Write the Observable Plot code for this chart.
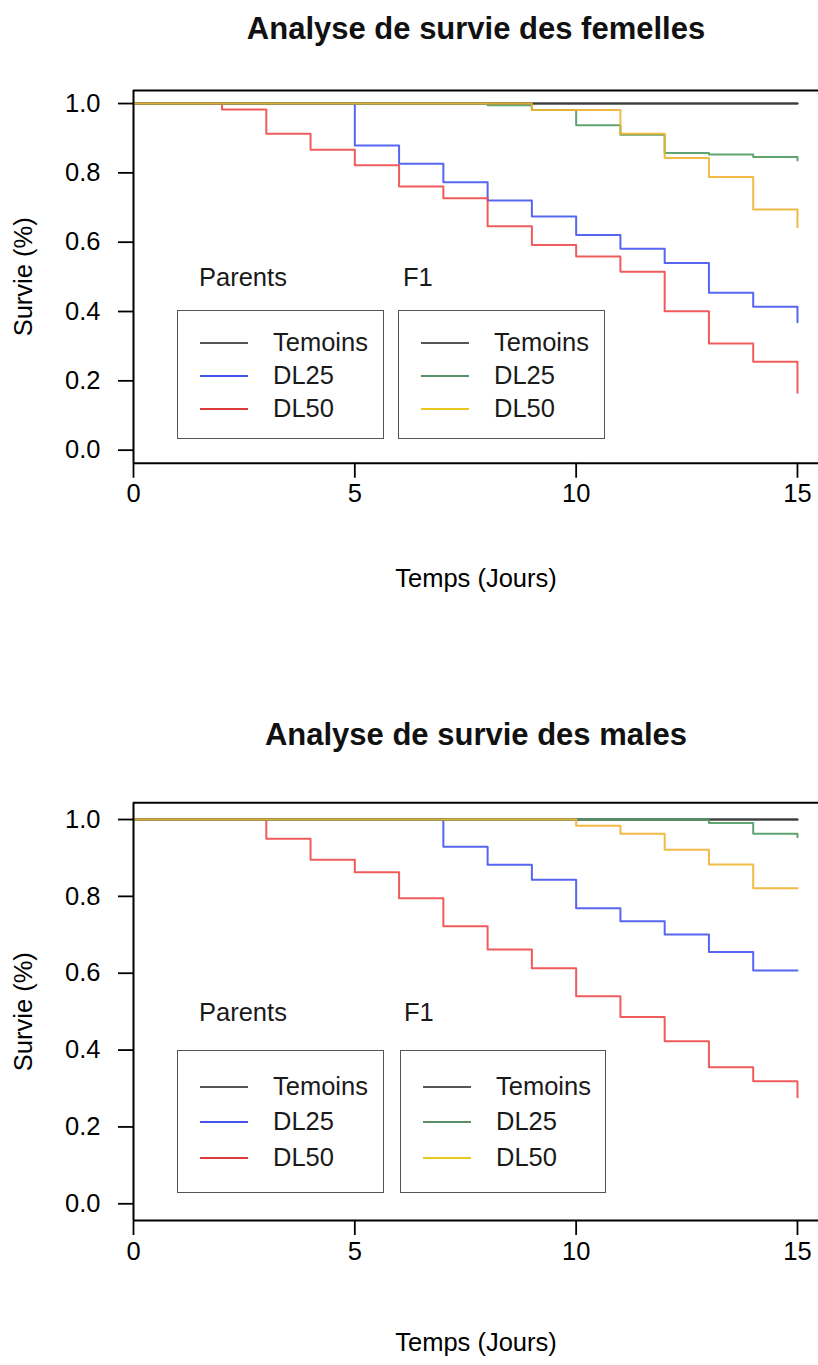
<!DOCTYPE html>
<html>
<head>
<meta charset="utf-8">
<script src="https://cdn.jsdelivr.net/npm/d3@7"></script>
<script src="https://cdn.jsdelivr.net/npm/@observablehq/plot@0.6"></script>
<style>
  body { margin: 0; background: #fff; }
  #root { position: relative; width: 818px; height: 1365px; overflow: hidden;
          font-family: "Liberation Sans", Arial, Helvetica, sans-serif; background: #fff; }
  .panel { position: absolute; left: 0; }
  .lg { position: absolute; font-size: 25.5px; color: #1a1a1a; line-height: 1; white-space: nowrap; transform: translateY(-50%); }
  .lg-box { position: absolute; border: 1.6px solid #555; box-sizing: border-box; }
  .lg-line { position: absolute; height: 0; border-top-width: 2px; border-top-style: solid; transform: translateY(-1px); }
</style>
</head>
<body>
<div id="root"></div>
<script>
// ---------- data ----------
const days = [0, 1, 2, 3, 4, 5, 6, 7, 8, 9, 10, 11, 12, 13, 14, 15];
const xTicks = [0, 5, 10, 15];
const yTicks = [0, 0.2, 0.4, 0.6, 0.8, 1.0];
const groups = ["Parents", "F1"];
const doses = ["Temoins", "DL25", "DL50"];

// Femelles
const femParentsTemoins = [1, 1, 1, 1, 1, 1, 1, 1, 1, 1, 1, 1, 1, 1, 1, 1];
const femParentsDL25    = [1, 1, 1, 1, 1, 0.879, 0.826, 0.773, 0.720, 0.674, 0.621, 0.581, 0.540, 0.454, 0.414, 0.369];
const femParentsDL50    = [1, 1, 0.983, 0.913, 0.867, 0.822, 0.761, 0.727, 0.646, 0.592, 0.559, 0.515, 0.401, 0.308, 0.255, 0.166];
const femF1Temoins      = [1, 1, 1, 1, 1, 1, 1, 1, 1, 1, 1, 1, 1, 1, 1, 1];
const femF1DL25         = [1, 1, 1, 1, 1, 1, 1, 1, 0.995, 0.981, 0.937, 0.910, 0.857, 0.853, 0.846, 0.836];
const femF1DL50         = [1, 1, 1, 1, 1, 1, 1, 1, 1, 0.981, 0.981, 0.913, 0.843, 0.788, 0.694, 0.643];

// Males
const malParentsTemoins = [1, 1, 1, 1, 1, 1, 1, 1, 1, 1, 1, 1, 1, 1, 1, 1];
const malParentsDL25    = [1, 1, 1, 1, 1, 1, 1, 0.929, 0.882, 0.843, 0.769, 0.735, 0.701, 0.655, 0.607, 0.607];
const malParentsDL50    = [1, 1, 1, 0.950, 0.895, 0.863, 0.795, 0.722, 0.662, 0.613, 0.540, 0.486, 0.423, 0.355, 0.319, 0.277];
const malF1Temoins      = [1, 1, 1, 1, 1, 1, 1, 1, 1, 1, 1, 1, 1, 1, 1, 1];
const malF1DL25         = [1, 1, 1, 1, 1, 1, 1, 1, 1, 1, 1, 1, 1, 0.991, 0.963, 0.954];
const malF1DL50         = [1, 1, 1, 1, 1, 1, 1, 1, 1, 1, 0.984, 0.963, 0.921, 0.883, 0.821, 0.821];

const titles = ["Analyse de survie des femelles", "Analyse de survie des males"];
const xLabel = "Temps (Jours)";
const yLabel = "Survie (%)";

// ---------- styles ----------
const colors = {
  "Parents-Temoins": "#3a3a3a", "Parents-DL25": "#4455ee", "Parents-DL50": "#ee4a4a",
  "F1-Temoins": "#3a3a3a", "F1-DL25": "#4f9a60", "F1-DL50": "#f0b232"
};
const legendColors = {
  "Parents-Temoins": "#555", "Parents-DL25": "#4455ee", "Parents-DL50": "#dd3a3a",
  "F1-Temoins": "#555", "F1-DL25": "#5a8f6a", "F1-DL50": "#e8c81e"
};

function buildTable(seriesList) {
  const rows = [];
  seriesList.forEach(([g, dose, values]) => {
    const key = g + "-" + dose;
    values.forEach((v, i) => rows.push({day: days[i], surv: v, key, color: colors[key]}));
  });
  return rows;
}

const femTable = buildTable([
  ["Parents", "Temoins", femParentsTemoins], ["Parents", "DL25", femParentsDL25], ["Parents", "DL50", femParentsDL50],
  ["F1", "Temoins", femF1Temoins], ["F1", "DL25", femF1DL25], ["F1", "DL50", femF1DL50]
]);
const malTable = buildTable([
  ["Parents", "Temoins", malParentsTemoins], ["Parents", "DL25", malParentsDL25], ["Parents", "DL50", malParentsDL50],
  ["F1", "Temoins", malF1Temoins], ["F1", "DL25", malF1DL25], ["F1", "DL50", malF1DL50]
]);

const xDomain = [0, 15.475];
const FONT = '"Liberation Sans", Arial, Helvetica, sans-serif';

function makePanel(table, cfg) {
  return Plot.plot({
    width: 818,
    height: cfg.height,
    marginLeft: 133,
    marginRight: 0,
    marginTop: cfg.marginTop,
    marginBottom: cfg.marginBottom,
    style: {fontFamily: FONT, fontSize: "25.5px", color: "#000", background: "transparent", overflow: "visible"},
    x: {domain: xDomain},
    y: {domain: cfg.yDomain},
    marks: [
      Plot.line(table, {x: "day", y: "surv", z: "key", stroke: "color", curve: "step-after", strokeWidth: 2, strokeOpacity: 0.9}),
      Plot.ruleX([xDomain[0]], {stroke: "#000", strokeWidth: 2}),
      Plot.ruleY(cfg.yDomain, {stroke: "#000", strokeWidth: 2}),
      Plot.axisX({ticks: xTicks, tickSize: 15, tickPadding: 6, tickFormat: d => String(d),
                  label: xLabel, labelAnchor: "center", labelOffset: cfg.xLabelOffset, labelArrow: "none",
                  fontSize: 25.5, strokeWidth: 1.8}),
      Plot.axisY({ticks: yTicks, tickSize: 15, tickPadding: 18, tickFormat: d => d.toFixed(1),
                  label: yLabel, labelAnchor: "center", labelOffset: 120, labelArrow: "none",
                  fontSize: 25.5, strokeWidth: 1.8}),
      Plot.text([cfg.title], {text: d => d, frameAnchor: "top", dy: cfg.titleDy, lineAnchor: "bottom",
                  fontSize: 31, fontWeight: "bold", fill: "#111"})
    ]
  });
}

const root = document.getElementById("root");

function addPanel(table, cfg, top) {
  const wrap = document.createElement("div");
  wrap.className = "panel";
  wrap.style.top = top + "px";
  wrap.appendChild(makePanel(table, cfg));
  root.appendChild(wrap);
}

addPanel(femTable, {height: 600, marginTop: 90, marginBottom: 137.3, yDomain: [-0.0376, 1.0376],
                    xLabelOffset: 124, titleDy: -52, title: titles[0]}, 0);
addPanel(malTable, {height: 665, marginTop: 102.3, marginBottom: 145, yDomain: [-0.0435, 1.0435],
                    xLabelOffset: 130.5, titleDy: -58.3, title: titles[1]}, 700);

// ---------- legends (HTML overlay) ----------
function el(cls, styles, text) {
  const d = document.createElement("div");
  d.className = cls;
  Object.assign(d.style, styles);
  if (text != null) d.textContent = text;
  root.appendChild(d);
  return d;
}

function addLegend(L) {
  groups.forEach((g, gi) => {
    const bx = L.boxX[gi];
    el("lg", {left: L.titleX[gi] + "px", top: L.titleY + "px"}, g);
    el("lg-box", {left: bx[0] + "px", top: L.boxTop + "px", width: (bx[1] - bx[0]) + "px", height: (L.boxBottom - L.boxTop) + "px"});
    doses.forEach((dose, di) => {
      const key = g + "-" + dose;
      el("lg-line", {left: (bx[0] + 23) + "px", width: "48px", top: L.rows[di] + "px", borderTopColor: legendColors[key]});
      el("lg", {left: (bx[0] + 96) + "px", top: L.rows[di] + "px"}, dose);
    });
  });
}

addLegend({titleX: [199, 403], titleY: 278, boxX: [[177, 384], [398, 605]], boxTop: 310, boxBottom: 439, rows: [343, 376, 409]});
addLegend({titleX: [199, 404], titleY: 1013, boxX: [[177, 384], [400, 606]], boxTop: 1050, boxBottom: 1193, rows: [1087, 1122, 1158]});
</script>
</body>
</html>
